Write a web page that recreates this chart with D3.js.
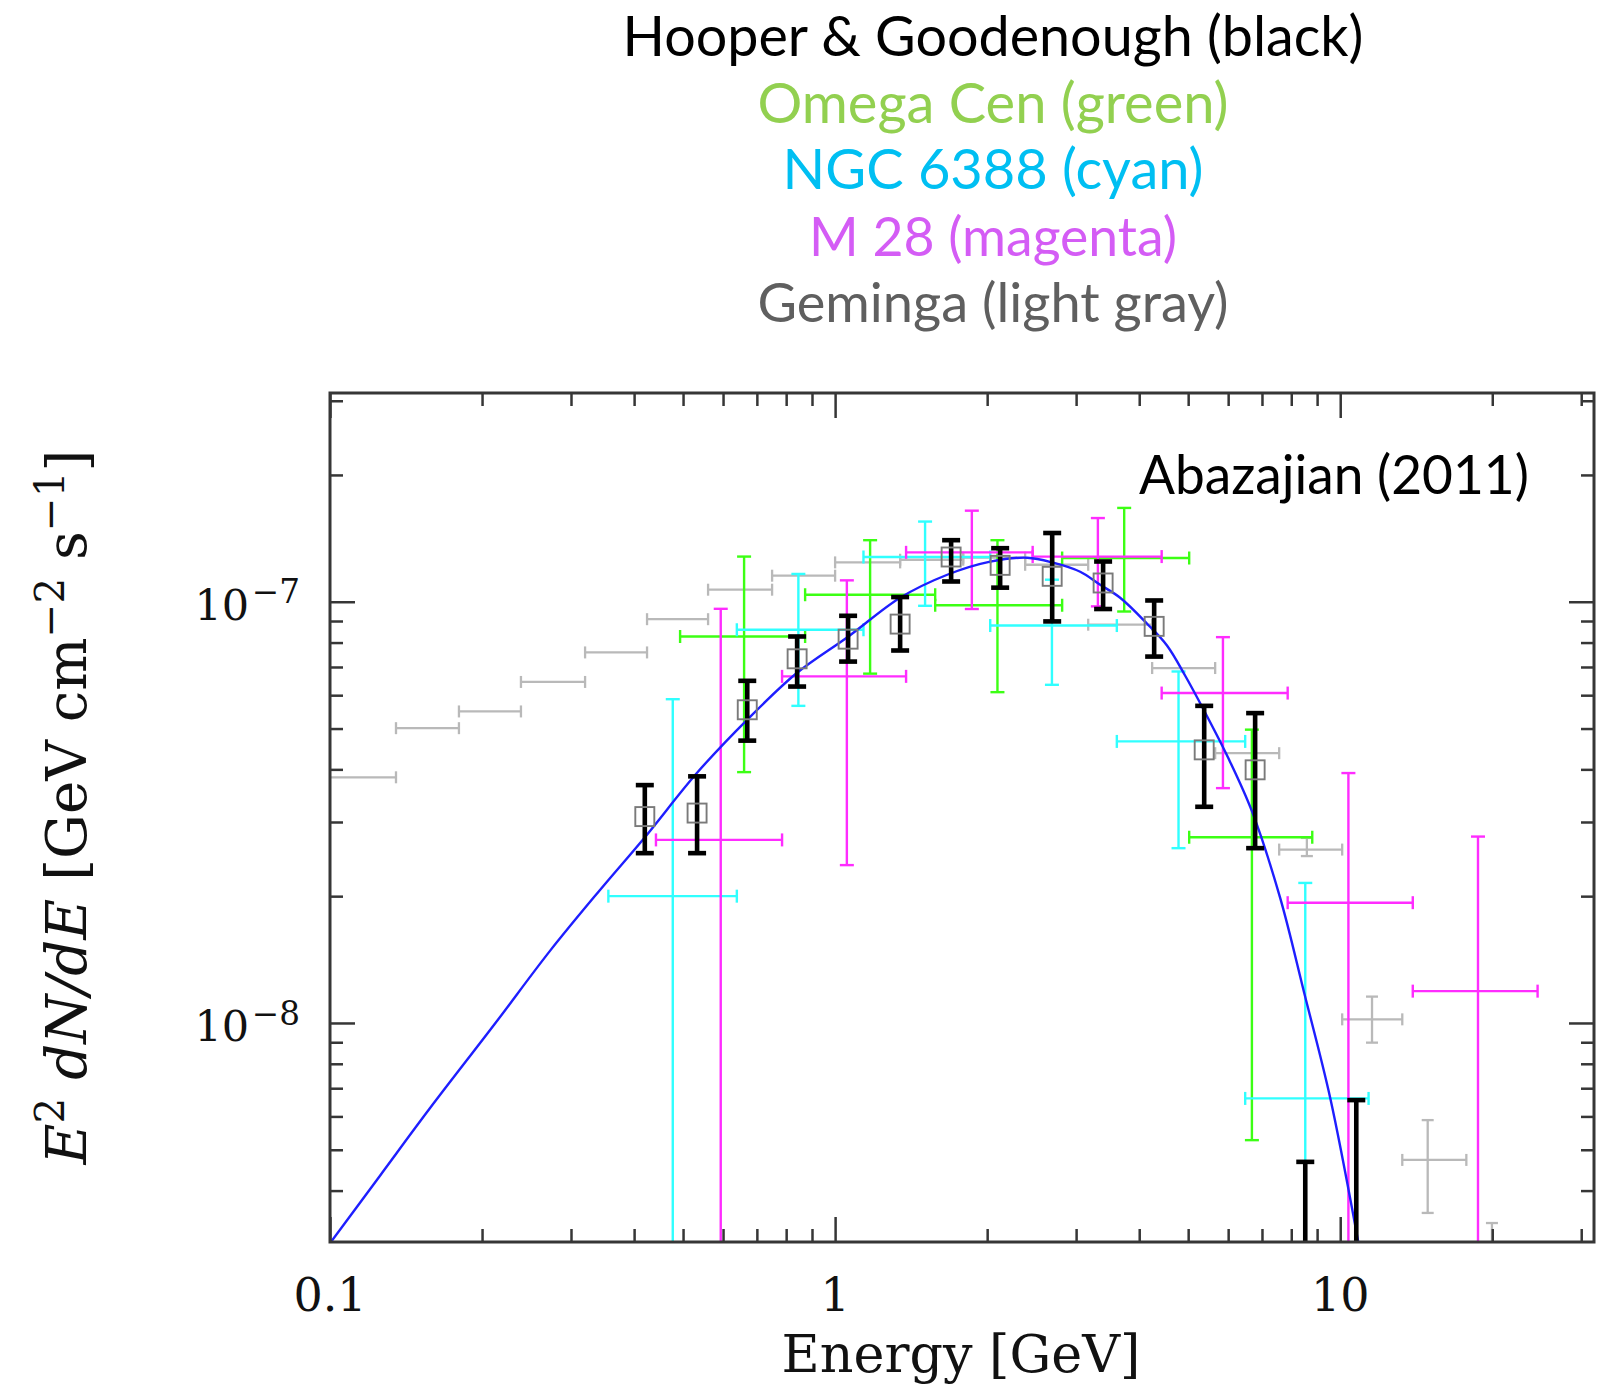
<!DOCTYPE html>
<html><head><meta charset="utf-8">
<script src="https://cdn.jsdelivr.net/npm/d3@7"></script>
<style>body{margin:0;background:#fff}svg{display:block}</style>
</head><body>
<svg id="c" width="1602" height="1384"></svg>
<script>
// ---------- text ----------
const titleLines  = ["Hooper & Goodenough (black)", "Omega Cen (green)", "NGC 6388 (cyan)", "M 28 (magenta)", "Geminga (light gray)"];
const titleColors = ["#000000", "#92d050", "#00bff2", "#d45cf5", "#5f5f5f"];
const annotation  = "Abazajian (2011)";
const xTitle = "Energy [GeV]";

// ---------- axes ----------
const xDomain = [0.1, 31.8];
const yDomain = [3.02e-9, 3.13e-7];
const xMajor = [0.1, 1, 10];
const xMajorLabels = ["0.1", "1", "10"];
const xMinor = [0.2,0.3,0.4,0.5,0.6,0.7,0.8,0.9,2,3,4,5,6,7,8,9,20,30];
const yMajor = [1e-8, 1e-7];
const yMajorExp = ["−8", "−7"];
const yMinor = [4e-9,5e-9,6e-9,7e-9,8e-9,9e-9,2e-8,3e-8,4e-8,5e-8,6e-8,7e-8,8e-8,9e-8,2e-7,3e-7];

// ---------- fit curve ----------
const curveE = [0.1, 0.1256, 0.1578, 0.2113, 0.2726, 0.3424, 0.4206, 0.533, 0.6695, 0.8409, 1.061, 1.345, 1.667, 2.028, 2.400, 2.702, 3.056, 3.348, 3.667, 4.147, 4.543, 4.933, 5.379, 6.0, 6.695, 7.605, 8.487, 9.555, 10.85, 11.3];
const curveF = [3.0e-9, 4.34e-9, 6.28e-9, 9.9e-9, 1.483e-8, 2.069e-8, 2.765e-8, 3.926e-8, 5.245e-8, 6.782e-8, 8.259e-8, 1.022e-7, 1.159e-7, 1.245e-7, 1.272e-7, 1.238e-7, 1.178e-7, 1.097e-7, 1.022e-7, 8.866e-8, 7.862e-8, 6.672e-8, 5.509e-8, 4.261e-8, 3.17e-8, 1.981e-8, 1.178e-8, 6.636e-9, 3.035e-9, 2.3e-9];

// ---------- Hooper & Goodenough (black) ----------
const hgE  = [0.42, 0.533, 0.67, 0.841, 1.061, 1.345, 1.697, 2.122, 2.69, 3.393, 4.282, 5.379, 6.785, 8.527, 10.76];
const hgF  = [3.09e-8, 3.15e-8, 5.54e-8, 7.32e-8, 8.15e-8, 8.85e-8, 1.277e-7, 1.22e-7, 1.149e-7, 1.108e-7, 8.74e-8, 4.45e-8, 3.99e-8, null, null];
const hgLo = [2.53e-8, 2.53e-8, 4.68e-8, 6.29e-8, 7.21e-8, 7.66e-8, 1.117e-7, 1.08e-7, 8.98e-8, 9.61e-8, 7.41e-8, 3.26e-8, 2.60e-8, 1e-9, 1e-9];
const hgHi = [3.67e-8, 3.85e-8, 6.49e-8, 8.27e-8, 9.26e-8, 1.026e-7, 1.40e-7, 1.34e-7, 1.456e-7, 1.246e-7, 1.007e-7, 5.66e-8, 5.44e-8, 4.68e-9, 6.56e-9];

// ---------- Omega Cen (green) ----------
const ocE   = [0.6604, 1.173, 2.096, 3.735, 6.686];
const ocElo = [0.4933, 0.8722, 1.578, 2.815, 5.023];
const ocEhi = [0.8722, 1.578, 2.815, 5.023, 8.803];
const ocF   = [8.27e-8, 1.039e-7, 9.81e-8, 1.27e-7, 2.76e-8];
const ocLo  = [3.94e-8, 6.75e-8, 6.1e-8, 9.48e-8, 5.27e-9];
const ocHi  = [1.28e-7, 1.40e-7, 1.40e-7, 1.67e-7, 4.97e-8];

// ---------- NGC 6388 (cyan) ----------
const ngE   = [0.4771, 0.8458, 1.507, 2.687, 4.785, 8.527];
const ngElo = [0.3557, 0.6389, 1.138, 2.028, 3.612, 6.484];
const ngEhi = [0.6389, 1.138, 2.028, 3.612, 6.484, 11.38];
const ngF   = [2.0e-8, 8.58e-8, 1.277e-7, 8.78e-8, 4.66e-8, 6.62e-9];
const ngLo  = [1e-9, 5.66e-8, 9.78e-8, 6.35e-8, 2.60e-8, 1e-9];
const ngHi  = [5.87e-8, 1.164e-7, 1.55e-7, 1.128e-7, 6.83e-8, 2.15e-8];

// ---------- M 28 (magenta) ----------
const m28E   = [0.5937, 1.055, 1.865, 3.313, 5.859, 10.38, 18.74];
const m28Elo = [0.4419, 0.7852, 1.382, 2.461, 4.431, 7.870, 13.92];
const m28Ehi = [0.7852, 1.382, 2.461, 4.431, 7.870, 13.92, 24.59];
const m28F   = [2.72e-8, 6.65e-8, 1.31e-7, 1.28e-7, 6.07e-8, 1.93e-8, 1.19e-8];
const m28Lo  = [1e-9, 2.37e-8, 9.61e-8, 9.75e-8, 3.61e-8, 1e-9, 1e-9];
const m28Hi  = [9.62e-8, 1.124e-7, 1.645e-7, 1.58e-7, 8.24e-8, 3.92e-8, 2.77e-8];

// ---------- Geminga (light gray) ----------
const gmE   = [0.1007, 0.1559, 0.2073, 0.2764, 0.3684, 0.4876, 0.6484, 0.8662, 1.160, 1.553, 2.065, 2.746, 3.667, 4.898, 6.543, 8.59, 11.56, 14.9, 19.97];
const gmElo = [0.075, 0.1351, 0.1800, 0.2388, 0.3199, 0.4243, 0.5604, 0.7503, 1.0, 1.345, 1.793, 2.378, 3.170, 4.243, 5.655, 7.571, 10.09, 13.27, 17.77];
const gmEhi = [0.1351, 0.1800, 0.2388, 0.3199, 0.4243, 0.5604, 0.7503, 1.0, 1.345, 1.793, 2.378, 3.170, 4.243, 5.655, 7.571, 10.09, 13.27, 17.77, 23.78];
const gmF   = [3.83e-8, 5.01e-8, 5.49e-8, 6.45e-8, 7.58e-8, 9.09e-8, 1.068e-7, 1.153e-7, 1.24e-7, 1.258e-7, 1.272e-7, 1.224e-7, 8.82e-8, 6.96e-8, 4.37e-8, 2.58e-8, 1.02e-8, 4.73e-9, 2.6e-9];
const gmLo  = [3.83e-8, 5.01e-8, 5.49e-8, 6.45e-8, 7.58e-8, 9.09e-8, 1.068e-7, 1.153e-7, 1.24e-7, 1.258e-7, 1.272e-7, 1.224e-7, 8.82e-8, 6.96e-8, 4.37e-8, 2.49e-8, 8.98e-9, 3.54e-9, 2.0e-9];
const gmHi  = [3.83e-8, 5.01e-8, 5.49e-8, 6.45e-8, 7.58e-8, 9.09e-8, 1.068e-7, 1.153e-7, 1.24e-7, 1.258e-7, 1.272e-7, 1.224e-7, 8.82e-8, 6.96e-8, 4.37e-8, 2.75e-8, 1.155e-8, 5.88e-9, 3.35e-9];

// ================= drawing =================
const svg = d3.select("#c");
const P = {l:330, r:1594, t:393, b:1242};
const x = d3.scaleLog().domain(xDomain).range([P.l, P.r]);
const y = d3.scaleLog().domain(yDomain).range([P.b, P.t]);
const serif = "'DejaVu Serif', 'Liberation Serif', serif";
const sans = "Lato, 'Open Sans', sans-serif";
const axisCol = "#363636";

function fitWidth(sel, target){
  const n = sel.node(); const fs = parseFloat(sel.attr("font-size"));
  const len = n.getComputedTextLength();
  if (len > 0) sel.attr("font-size", (fs*target/len).toFixed(2));
}

// title lines
const titleBase = [56, 123, 189, 256, 322];
const titleW = [741, 471, 421, 368, 471];
titleLines.forEach((t,i)=>{
  const s = svg.append("text").attr("x", 993).attr("y", titleBase[i])
    .attr("text-anchor","middle").attr("font-family", sans).attr("font-size", 52)
    .attr("fill", titleColors[i]).text(t);
  fitWidth(s, titleW[i]);
});

svg.append("defs").append("clipPath").attr("id","plotclip")
  .append("rect").attr("x",P.l).attr("y",P.t).attr("width",P.r-P.l).attr("height",P.b-P.t);
const plot = svg.append("g").attr("clip-path","url(#plotclip)");

function crosses(E, Elo, Ehi, F, Lo, Hi, col, lw, capH, capW){
  const g = plot.append("g").attr("stroke", col).attr("stroke-width", lw).attr("fill","none");
  E.forEach((e,i)=>{
    if (Elo && F[i] != null){
      const yy = y(F[i]);
      g.append("line").attr("x1", x(Elo[i])).attr("x2", x(Ehi[i])).attr("y1", yy).attr("y2", yy);
      [Elo[i], Ehi[i]].forEach(v=>g.append("line").attr("x1", x(v)).attr("x2", x(v)).attr("y1", yy-capH/2).attr("y2", yy+capH/2));
    }
    if (Hi[i] > Lo[i]){
      const xx = x(e);
      g.append("line").attr("x1", xx).attr("x2", xx).attr("y1", y(Lo[i])).attr("y2", y(Hi[i]));
      [Lo[i], Hi[i]].forEach(v=>g.append("line").attr("x1", xx-capW/2).attr("x2", xx+capW/2).attr("y1", y(v)).attr("y2", y(v)));
    }
  });
}

crosses(gmE, gmElo, gmEhi, gmF, gmLo, gmHi, "#b9b9b9", 2.3, 12, 12);
crosses(ocE, ocElo, ocEhi, ocF, ocLo, ocHi, "#3cff14", 2.4, 13, 14);
crosses(ngE, ngElo, ngEhi, ngF, ngLo, ngHi, "#30ffff", 2.4, 13, 14);
crosses(m28E, m28Elo, m28Ehi, m28F, m28Lo, m28Hi, "#ff2cff", 2.4, 13, 14);

// fit curve
plot.append("path").datum(curveE.map((e,i)=>[e, curveF[i]]))
  .attr("fill","none").attr("stroke","#1e1eff").attr("stroke-width",2.4)
  .attr("d", d3.line().x(d=>x(d[0])).y(d=>y(d[1])).curve(d3.curveCatmullRom.alpha(0.5)));

// black points
crosses(hgE, null, null, hgF, hgLo, hgHi, "#000", 4.6, 0, 18);
const sq = 19;
plot.append("g").selectAll("rect").data(hgE.map((e,i)=>[e,hgF[i]]).filter(d=>d[1]!=null))
  .join("rect").attr("x", d=>x(d[0])-sq/2).attr("y", d=>y(d[1])-sq/2)
  .attr("width", sq).attr("height", sq).attr("fill","none")
  .attr("stroke","#7a7a7a").attr("stroke-width",1.9);

// ---------- axes ----------
const ax = svg.append("g").attr("color", axisCol);
function styleAxis(g){ g.select(".domain").remove(); g.selectAll("line").attr("stroke-width",2.5); }
ax.append("g").attr("transform",`translate(0,${P.b})`).call(d3.axisBottom(x).tickValues(xMinor).tickSize(-13).tickFormat("")).call(styleAxis);
ax.append("g").attr("transform",`translate(0,${P.b})`).call(d3.axisBottom(x).tickValues(xMajor).tickSize(-25).tickFormat("")).call(styleAxis);
ax.append("g").attr("transform",`translate(0,${P.t})`).call(d3.axisTop(x).tickValues(xMinor).tickSize(-13).tickFormat("")).call(styleAxis);
ax.append("g").attr("transform",`translate(0,${P.t})`).call(d3.axisTop(x).tickValues(xMajor).tickSize(-25).tickFormat("")).call(styleAxis);
ax.append("g").attr("transform",`translate(${P.l},0)`).call(d3.axisLeft(y).tickValues(yMinor).tickSize(-13).tickFormat("")).call(styleAxis);
ax.append("g").attr("transform",`translate(${P.l},0)`).call(d3.axisLeft(y).tickValues(yMajor).tickSize(-25).tickFormat("")).call(styleAxis);
ax.append("g").attr("transform",`translate(${P.r},0)`).call(d3.axisRight(y).tickValues(yMinor).tickSize(-13).tickFormat("")).call(styleAxis);
ax.append("g").attr("transform",`translate(${P.r},0)`).call(d3.axisRight(y).tickValues(yMajor).tickSize(-25).tickFormat("")).call(styleAxis);
svg.append("rect").attr("x",P.l).attr("y",P.t).attr("width",P.r-P.l).attr("height",P.b-P.t)
  .attr("fill","none").attr("stroke",axisCol).attr("stroke-width",3);

// x tick labels
xMajor.forEach((v,i)=>{
  svg.append("text").attr("x", x(v)).attr("y", 1311).attr("text-anchor","middle")
    .attr("font-family", serif).attr("font-size", 46).attr("fill","#111").text(xMajorLabels[i]);
});
// y tick labels
yMajor.forEach((v,i)=>{
  const t = svg.append("text").attr("x", 300).attr("y", y(v)+18).attr("text-anchor","end")
    .attr("font-family", serif).attr("font-size", 43).attr("fill","#111");
  t.append("tspan").text("10");
  t.append("tspan").attr("font-size","0.76em").attr("dy","-0.5em").attr("dx","0.08em").text(yMajorExp[i]);
});

// x title
const xt = svg.append("text").attr("x", 961).attr("y", 1372).attr("text-anchor","middle")
  .attr("font-family", serif).attr("font-size", 52).attr("fill","#111").text(xTitle);
fitWidth(xt, 359);

// y title
const yt = svg.append("text").attr("transform","translate(86,807) rotate(-90)")
  .attr("text-anchor","middle").attr("font-family", serif).attr("font-size", 52).attr("fill","#111");
yt.append("tspan").attr("font-style","italic").text("E");
yt.append("tspan").attr("font-size","0.72em").attr("dy","-0.55em").text("2");
yt.append("tspan").attr("dy","0.4em").attr("font-style","italic").text(" dN/dE ");
yt.append("tspan").text("[GeV cm");
yt.append("tspan").attr("font-size","0.72em").attr("dy","-0.55em").text("−2");
yt.append("tspan").attr("dy","0.4em").text(" s");
yt.append("tspan").attr("font-size","0.72em").attr("dy","-0.55em").text("−1");
yt.append("tspan").attr("dy","0.4em").text("]");
fitWidth(yt, 715);

// annotation
const an = svg.append("text").attr("x", 1139).attr("y", 494).attr("font-family", sans)
  .attr("font-size", 52).attr("fill","#000").text(annotation);
fitWidth(an, 390);
</script>
</body></html>
